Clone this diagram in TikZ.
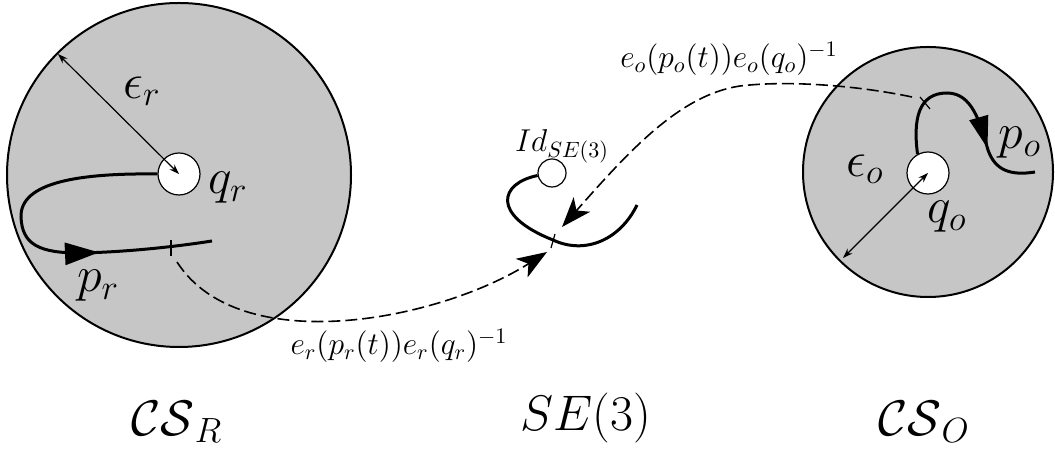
\documentclass[tikz,border=0pt]{standalone}
\usepackage{fix-cm}
\usetikzlibrary{arrows.meta,decorations.markings}
\definecolor{shade}{gray}{0.776}
\tikzset{
  region/.style={circle,draw=black,line width=1pt,fill=shade,inner sep=0pt},
  hole/.style={circle,draw=black,line width=0.6pt,fill=white,inner sep=0pt},
  traj/.style={line width=1.5pt},
  tickmark/.style={line width=0.6pt},
  radius/.style={line width=0.6pt,{Stealth[length=5pt,width=3.5pt]}-{Stealth[length=5pt,width=3.5pt]}},
  mapping/.style={line width=0.8pt,dash pattern=on 6pt off 2.5pt,-{Stealth[length=15pt,width=11pt,inset=4pt]}},
  biglbl/.style={inner sep=0pt,font=\fontsize{25}{30}\selectfont},
  smalllbl/.style={inner sep=0pt,font=\fontsize{15.8}{19}\selectfont},
}
\begin{document}
\begin{tikzpicture}[x=0.5pt,y=-0.5pt]
\useasboundingbox (0,0) rectangle (1055,453);
% regions
\node[region,minimum size=172pt] (CSR) at (179,175) {};
\node[region,minimum size=125pt] (CSO) at (928,172) {};
\node[hole,minimum size=21pt] (qr) at (179,174) {};
\node[hole,minimum size=21pt] (qo) at (928,173) {};
\node[hole,minimum size=14pt] (id) at (552,173) {};
% radius arrows
\coordinate (rimR) at (58,54);
\coordinate (rimO) at (843,258);
\draw[radius] (rimR) -- (qr.center);
\draw[radius] (rimO) -- (qo.center);
% trajectory p_r
\draw[traj,decoration={markings,mark=at position 0.69 with {\arrow{Triangle[length=17pt,width=11pt]}}},postaction=decorate]
  (qr.west) .. controls (80,173) and (20,182) .. (21,217)
  .. controls (22,245) and (40,253) .. (80,253)
  .. controls (130,252) and (180,246) .. (212,241);
\coordinate (tr) at (171,248);
\draw[tickmark] ([shift={(0,-8)}]tr) -- ([shift={(0,8)}]tr);
% trajectory p_o
\draw[traj,decoration={markings,mark=at position 0.72 with {\arrow{Triangle[length=16pt,width=9.5pt]}}},postaction=decorate]
  (qo.119) .. controls (913,120) and (918,93) .. (947,93)
  .. controls (972,93) and (980,122) .. (988,150)
  .. controls (995,170) and (1010,176) .. (1035,172);
\coordinate (to) at (925,103);
\draw[tickmark] ([shift={(-5,-6)}]to) -- ([shift={(5,6)}]to);
% trajectory in SE(3)
\draw[traj] (id.190) .. controls (500,183) and (490,215) .. (553,240)
  .. controls (585,255) and (620,240) .. (637,205);
\coordinate (tm) at (553,241);
\draw[tickmark] ([shift={(2,-7)}]tm) -- ([shift={(-2,7)}]tm);
% mappings
\coordinate (startR) at (177,262);
\coordinate (endR) at (547,252);
\draw[mapping] (startR) .. controls (240,360) and (440,320) .. (endR);
\coordinate (startO) at (912,97);
\coordinate (endO) at (562,227);
\draw[mapping] (startO) .. controls (860,86) and (790,80) .. (740,86)
  .. controls (680,95) and (630,150) .. (endO);
% labels
\node[biglbl] (epsr) at (142,91) {$\epsilon_r$};
\node[biglbl] (lqr) at (228,188) {$q_r$};
\node[biglbl] (lpr) at (98,286) {$p_r$};
\node[biglbl] (epso) at (865,169) {$\epsilon_o$};
\node[biglbl] (lqo) at (947,217) {$q_o$};
\node[biglbl] (lpo) at (1020,143) {$p_o$};
\node[smalllbl] (lid) at (562,146) {$Id_{SE(3)}$};
\node[smalllbl] (mapR) at (399,346) {$e_r(p_r(t))e_r(q_r)^{-1}$};
\node[smalllbl] (mapO) at (729,59) {$e_o(p_o(t))e_o(q_o)^{-1}$};
\node[biglbl] (tCSR) at (177,422) {$\mathcal{CS}_R$};
\node[biglbl] (tSE) at (586,418) {$SE(3)$};
\node[biglbl] (tCSO) at (924,422) {$\mathcal{CS}_O$};
\end{tikzpicture}
\end{document}
